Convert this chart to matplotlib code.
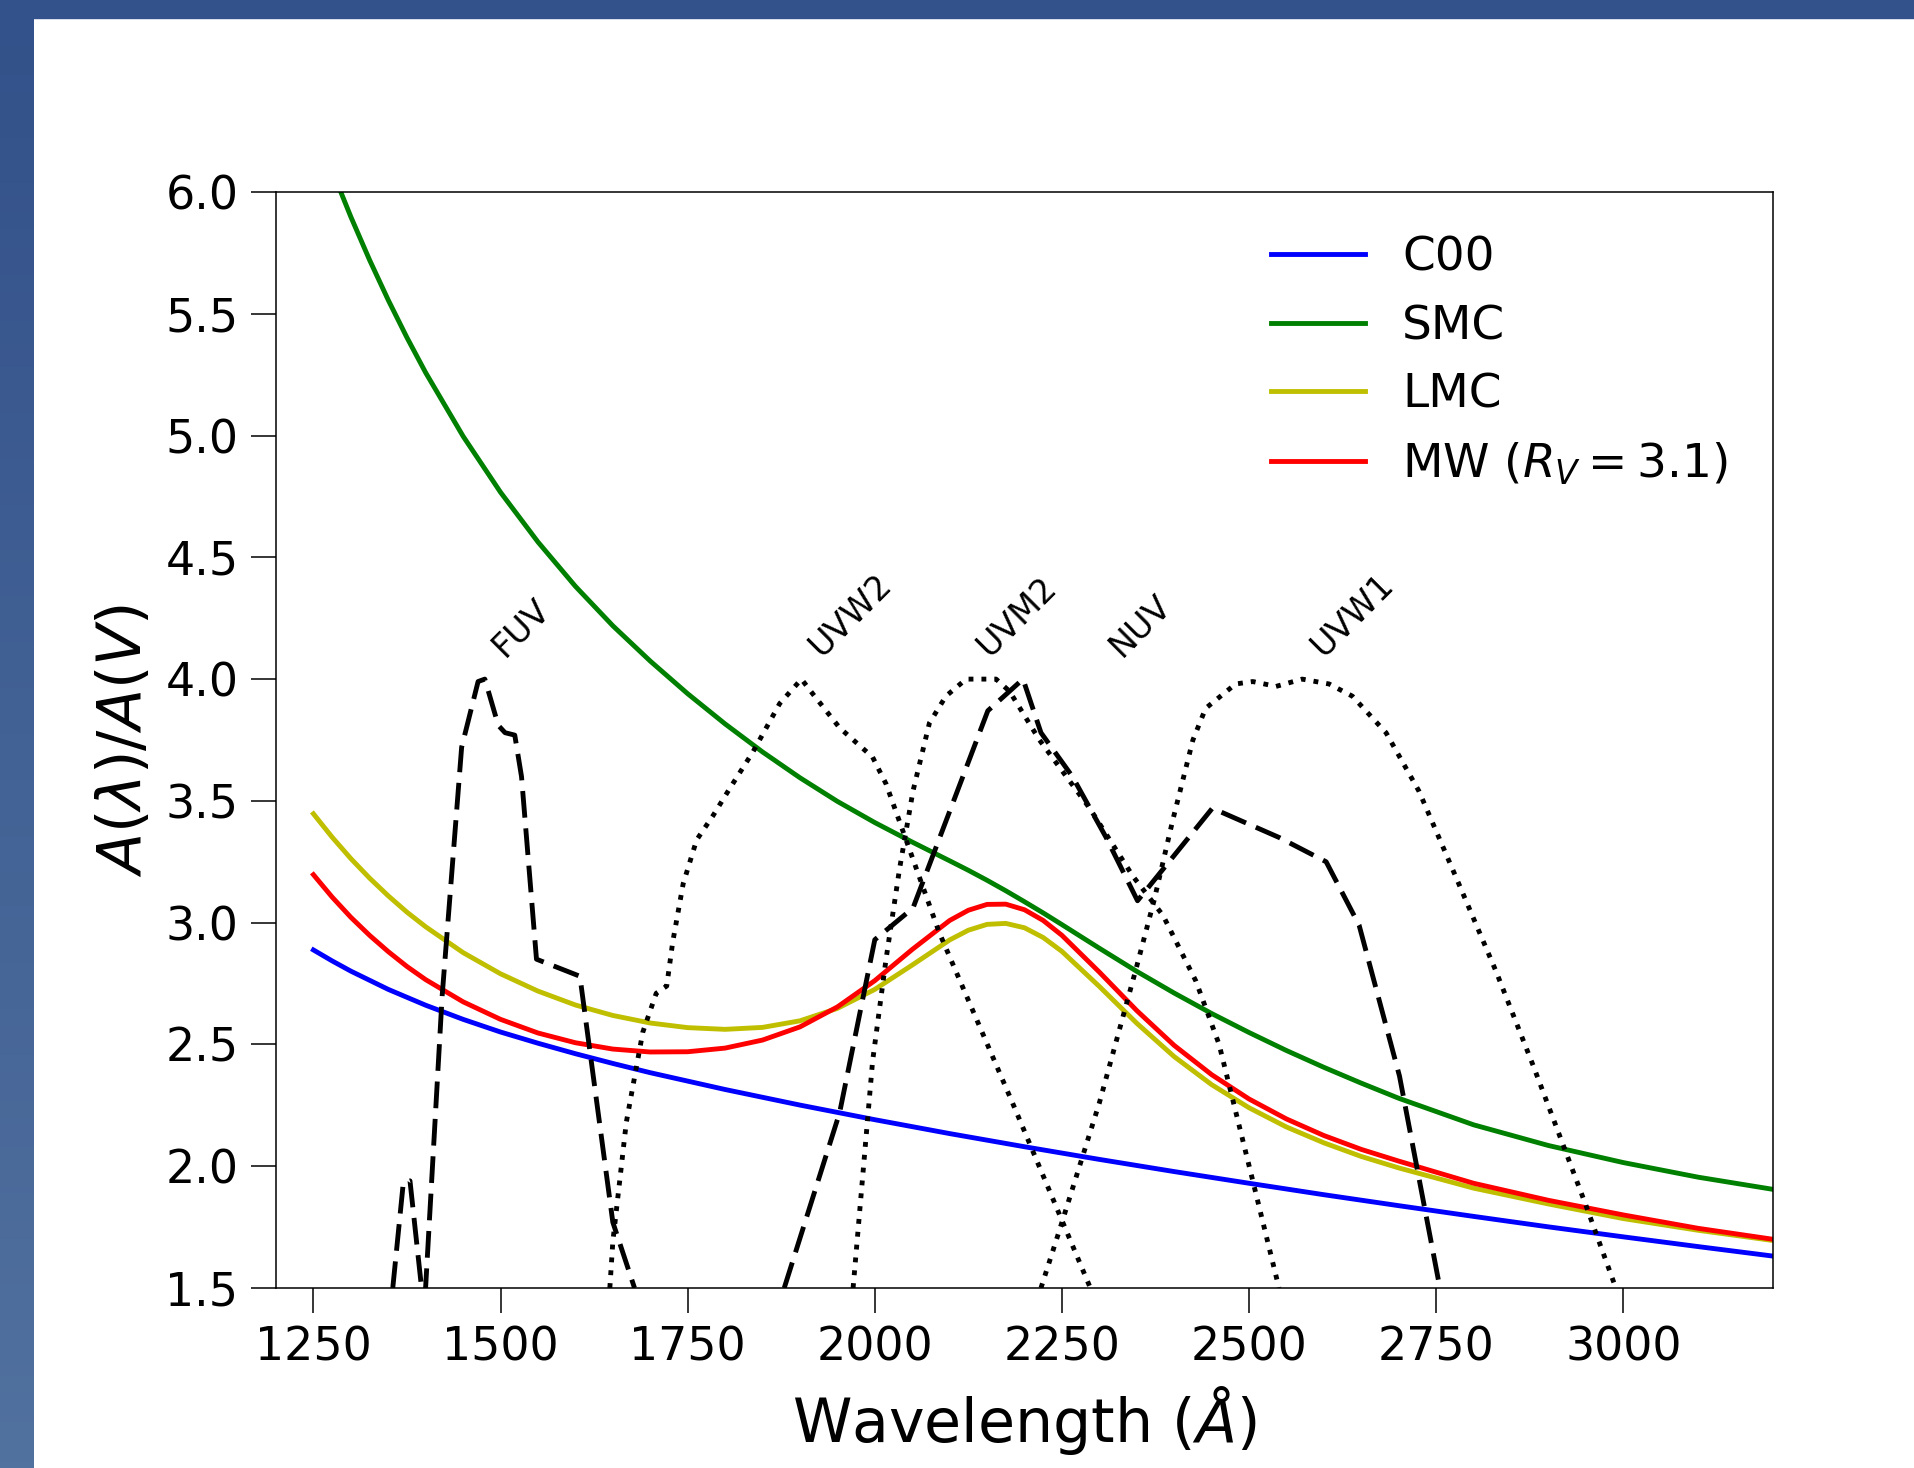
import numpy as np
import matplotlib
matplotlib.use('Agg')
import matplotlib.pyplot as plt
from matplotlib.colors import LinearSegmentedColormap

# extinction curves A(lambda)/A(V)
lam = [1250, 1275, 1300, 1325, 1350, 1375, 1400, 1450, 1500, 1550, 1600, 1650,
       1700, 1750, 1800, 1850, 1900, 1950, 2000, 2050, 2100, 2125, 2150, 2175,
       2200, 2225, 2250, 2300, 2350, 2400, 2450, 2500, 2550, 2600, 2650, 2700,
       2800, 2900, 3000, 3100, 3200]
smc = [6.293, 6.088, 5.898, 5.721, 5.556, 5.402, 5.258, 4.997, 4.767, 4.563, 4.381, 4.219,
       4.074, 3.940, 3.816, 3.701, 3.595, 3.498, 3.411, 3.331, 3.254, 3.215, 3.174, 3.131,
       3.086, 3.040, 2.992, 2.895, 2.800, 2.711, 2.627, 2.549, 2.475, 2.406, 2.341, 2.279,
       2.170, 2.085, 2.015, 1.955, 1.905]
lmc = [3.447, 3.351, 3.263, 3.183, 3.110, 3.043, 2.983, 2.877, 2.790, 2.719, 2.662, 2.619,
       2.588, 2.569, 2.562, 2.570, 2.597, 2.648, 2.726, 2.826, 2.929, 2.969, 2.993, 2.997,
       2.979, 2.939, 2.882, 2.738, 2.587, 2.450, 2.335, 2.240, 2.161, 2.096, 2.040, 1.993,
       1.910, 1.845, 1.785, 1.737, 1.695]
mw = [3.197, 3.105, 3.022, 2.948, 2.881, 2.820, 2.766, 2.675, 2.603, 2.547, 2.507, 2.481,
      2.469, 2.470, 2.485, 2.518, 2.572, 2.654, 2.762, 2.890, 3.009, 3.051, 3.075, 3.076,
      3.053, 3.009, 2.948, 2.797, 2.639, 2.496, 2.376, 2.276, 2.194, 2.126, 2.069, 2.021,
      1.930, 1.860, 1.800, 1.745, 1.700]

lam_c00 = [1250, 1275, 1300, 1350, 1400, 1450, 1500, 1550, 1600, 1650, 1700, 1800,
           1900, 2000, 2100, 2200, 2300, 2400, 2500, 2600, 2700, 2800, 2900, 3000,
           3100, 3200]
c00 = [2.888, 2.843, 2.801, 2.726, 2.661, 2.603, 2.551, 2.505, 2.462, 2.422, 2.384, 2.315,
       2.251, 2.191, 2.134, 2.080, 2.028, 1.978, 1.930, 1.883, 1.838, 1.794, 1.751, 1.710,
       1.670, 1.631]

# filter curves (scaled between 1.5 and 4)
fuv_lam = [1356, 1370, 1379, 1398, 1422, 1448, 1470, 1479, 1497, 1506, 1519, 1528,
           1548, 1606, 1650, 1679]
fuv_v = [1.50, 1.93, 1.94, 1.40, 2.70, 3.72, 3.99, 4.00, 3.81, 3.78, 3.77, 3.60,
         2.85, 2.78, 1.77, 1.50]

nuv_lam = [1879, 1953, 2000, 2051, 2151, 2198, 2222, 2264, 2309, 2351, 2451, 2540,
           2603, 2647, 2701, 2755]
nuv_v = [1.50, 2.22, 2.93, 3.06, 3.87, 4.00, 3.78, 3.60, 3.35, 3.09, 3.47, 3.35,
         3.25, 2.99, 2.37, 1.50]

uvw2_lam = [1646, 1650, 1668, 1690, 1708, 1722, 1730, 1744, 1762, 1784, 1806, 1837,
            1873, 1902, 1917, 1953, 1997, 2015, 2086, 2184, 2288]
uvw2_v = [1.50, 1.69, 2.18, 2.55, 2.71, 2.74, 2.92, 3.16, 3.34, 3.44, 3.55, 3.70,
          3.90, 4.00, 3.94, 3.80, 3.68, 3.57, 2.96, 2.26, 1.50]

uvm2_lam = [1971, 1997, 2015, 2033, 2051, 2073, 2095, 2122, 2162, 2180, 2220, 2287,
            2345, 2385, 2429, 2460, 2505, 2540]
uvm2_v = [1.50, 2.43, 2.85, 3.22, 3.54, 3.82, 3.93, 4.00, 4.00, 3.95, 3.75, 3.47,
          3.19, 3.03, 2.76, 2.50, 1.94, 1.50]

uvw1_lam = [2222, 2247, 2300, 2349, 2373, 2398, 2425, 2442, 2482, 2505, 2536, 2571,
            2607, 2638, 2683, 2727, 2776, 2830, 2880, 2950, 2990]
uvw1_v = [1.50, 1.74, 2.26, 2.81, 3.09, 3.42, 3.75, 3.88, 3.98, 3.99, 3.97, 4.00,
          3.98, 3.93, 3.78, 3.54, 3.19, 2.80, 2.41, 1.84, 1.50]

filter_names = ['FUV', 'UVW2', 'UVM2', 'NUV', 'UVW1']
filter_label_lam = [1506, 1928, 2153, 2330, 2599]

xticks = [1250, 1500, 1750, 2000, 2250, 2500, 2750, 3000]
yticks = [1.5, 2.0, 2.5, 3.0, 3.5, 4.0, 4.5, 5.0, 5.5, 6.0]

W, H = 1915, 1468
fig = plt.figure(figsize=(W / 100, H / 100), dpi=100)

# blue frame at top and left
band = fig.add_axes([0, 0, 34 / W, 1])
grad = np.linspace(0, 1, 256).reshape(-1, 1)
cmap = LinearSegmentedColormap.from_list('band', ['#33518a', '#51719f'])
band.imshow(grad, aspect='auto', cmap=cmap, extent=[0, 1, 0, 1], origin='upper')
band.axis('off')
fig.add_artist(plt.Rectangle((0, 1 - 17.5 / H), 1, 17.5 / H, transform=fig.transFigure,
                             color='#33518a', zorder=5))

ax = fig.add_axes([276 / W, 1 - 1288 / H, 1497 / W, 1096 / H])

lw = 3.5
ax.plot(lam_c00, c00, color='b', lw=lw, label='C00')
ax.plot(lam, smc, color='g', lw=lw, label='SMC')
ax.plot(lam, lmc, color='y', lw=lw, label='LMC')
ax.plot(lam, mw, color='r', lw=lw, label='MW ($R_V = 3.1$)')

dash = (5.5, 2.2)
ax.plot(fuv_lam, fuv_v, 'k--', lw=lw, dashes=dash)
ax.plot(nuv_lam, nuv_v, 'k--', lw=lw, dashes=dash)
ax.plot(uvw2_lam, uvw2_v, 'k:', lw=lw)
ax.plot(uvm2_lam, uvm2_v, 'k:', lw=lw)
ax.plot(uvw1_lam, uvw1_v, 'k:', lw=lw)

for name, lx in zip(filter_names, filter_label_lam):
    ax.text(lx, 4.085, name, rotation=45, rotation_mode='anchor',
            ha='left', va='baseline', fontsize=24)

ax.set_xlim(1200, 3200)
ax.set_ylim(1.5, 6.0)
ax.set_xticks(xticks)
ax.set_yticks(yticks)
ax.tick_params(direction='out', length=18, width=1.1, labelsize=33, pad=9)
for sp in ax.spines.values():
    sp.set_linewidth(1.1)

ax.set_xlabel('Wavelength ($\\AA$)', fontsize=43.3, labelpad=10)
ax.set_ylabel('$A(\\lambda)/A(V)$', fontsize=43.3, labelpad=8)

ax.legend(loc='upper left', bbox_to_anchor=(0.6645, 0.96), frameon=False, fontsize=33.8,
          handlelength=2.0, handletextpad=0.8, labelspacing=0.5,
          borderpad=0, borderaxespad=0)

fig.savefig('out.png', dpi=100)
